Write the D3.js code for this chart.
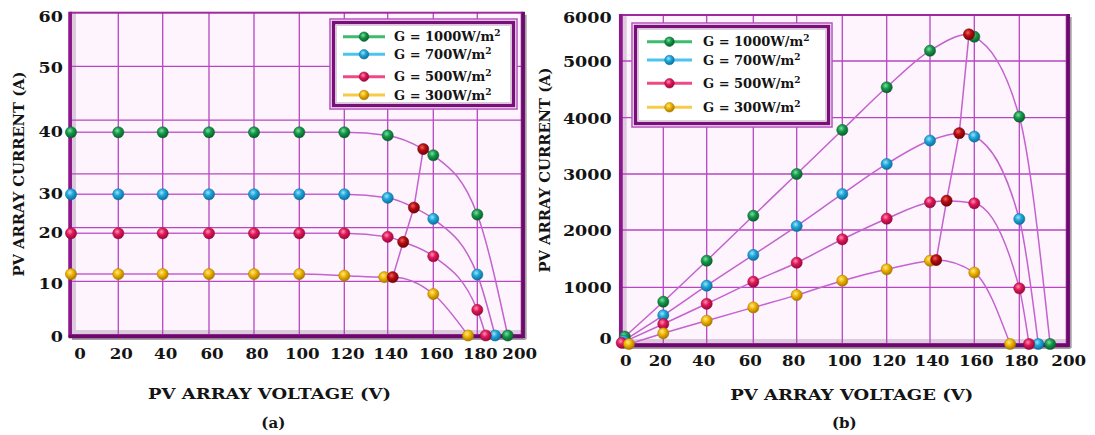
<!DOCTYPE html>
<html><head><meta charset="utf-8">
<script src="https://cdn.jsdelivr.net/npm/d3@7"></script>
<style>
body{margin:0;background:#fff}
svg{display:block}
text{font-family:"DejaVu Serif",serif;font-weight:bold;fill:#141414}
</style>
</head><body><script>
// ---------- DATA ----------
const seriesLabels = ["1000", "700", "500", "300"];           // G = ...W/m²
const xTickValues = [0,20,40,60,80,100,120,140,160,180,200];
const yTickValuesA = [0,10,20,30,40,50,60];
const yTickValuesB = [0,1000,2000,3000,4000,5000,6000];

// (a) I-V curves  [voltage, current]
const voltA_1000 = [0,20,40,60,80,100,120,140,160,180,193.7];
const currA_1000 = [40,40,40,40,40,40,40,39.5,36.3,24.8,0];
const voltA_700  = [0,20,40,60,80,100,120,140,160,180,188];
const currA_700  = [30,30,30,30,30,30,30,29.1,23.7,11.9,0];
const voltA_500  = [0,20,40,60,80,100,120,140,160,180,183.8];
const currA_500  = [20,20,20,20,20,20,20,19.3,15.5,5,0];
const voltA_300  = [0,20,40,60,80,100,120,138.4,160,175.8];
const currA_300  = [12,12,12,12,12,12,11.7,11.4,8.1,0];
const mppVoltA = [142.2,146.8,151.5,155.6];
const mppCurrA = [11.4,18.3,26.6,37.3];

// (b) P-V curves  [voltage, power]
const voltB_1000 = [1.5,20,40,60,80,100,120,140,160,180,193];
const powB_1000  = [130,746,1464,2255,3000,3782,4536,5224,5528,4018,0];
const voltB_700  = [1,20,40,60,80,100,120,140,160,180,188];
const powB_700   = [60,506,1028,1565,2071,2643,3178,3594,3665,2196,0];
const voltB_500  = [0,20,40,60,80,100,120,140,160,180,184.1];
const powB_500   = [20,353,709,1098,1429,1838,2202,2494,2477,982,0];
const voltB_300  = [3.5,20,40,60,80,100,120,140,160,175.9];
const powB_300   = [0,189,411,645,862,1115,1314,1464,1258,0];
const mppVoltB = [142.8,147.5,153.2,157.6];
const mppPowB  = [1476,2523,3725,5580];

// ---------- STYLE ----------
const palette = {
  green: {hl:"#7be0a0", base:"#14994a", dark:"#0a5e2c", line:"#3dbb6e"},
  blue:  {hl:"#9ae4fa", base:"#1ea6da", dark:"#0e6f9c", line:"#4cc4ee"},
  pink:  {hl:"#ff8fb2", base:"#e0185a", dark:"#98093a", line:"#ee4b86"},
  yellow:{hl:"#ffe98a", base:"#efb400", dark:"#a87800", line:"#f7cb4a"},
  mpp:   {hl:"#f06060", base:"#b60c10", dark:"#6e0406", line:"#b60c10"}
};
const seriesKeys = ["green","blue","pink","yellow"];
const curveColor = "#c462cf";
const gridColor = "#b746c0";

const svg = d3.select("body").append("svg").attr("width",1095).attr("height",435);
const defs = svg.append("defs");
Object.entries(palette).forEach(([k,c])=>{
  const gr = defs.append("radialGradient").attr("id","g-"+k)
    .attr("cx","40%").attr("cy","35%").attr("r","65%");
  gr.append("stop").attr("offset","0%").attr("stop-color",c.hl);
  gr.append("stop").attr("offset","45%").attr("stop-color",c.base);
  gr.append("stop").attr("offset","100%").attr("stop-color",c.dark);
});

const zip = (a,b)=>a.map((v,i)=>[v,b[i]]);

function drawPanel(o){
  const g = svg.append("g");
  const xs = d3.scaleLinear().domain(xTickValues).range(o.xRange);
  const ys = d3.scaleLinear().domain(o.yTicks).range(o.yRange);
  const L = o.xRange[0], R = o.xRange[o.xRange.length-1], T = o.top, B = o.bottom;

  // background
  g.append("rect").attr("x",L).attr("y",T).attr("width",R-L).attr("height",B-T).attr("fill","#fdf4fd");
  // inner bevel
  g.append("line").attr("x1",L+3).attr("x2",L+3).attr("y1",T).attr("y2",B).attr("stroke","#dccbdd").attr("stroke-width",4);
  g.append("line").attr("x1",L).attr("x2",R).attr("y1",B-3).attr("y2",B-3).attr("stroke","#dccbdd").attr("stroke-width",4);

  // grid
  const vGrid = xTickValues.slice(1,-1);
  g.selectAll(".vg").data(vGrid).join("line")
    .attr("x1",d=>xs(d)).attr("x2",d=>xs(d)).attr("y1",T).attr("y2",B)
    .attr("stroke",gridColor).attr("stroke-width",1.3);
  g.selectAll(".hg").data(o.hGrid).join("line")
    .attr("x1",L).attr("x2",R).attr("y1",d=>d).attr("y2",d=>d)
    .attr("stroke",gridColor).attr("stroke-width",1.3);

  // frame
  g.append("rect").attr("x",L).attr("y",T).attr("width",R-L).attr("height",B-T)
    .attr("fill","none").attr("stroke","#a0289f").attr("stroke-width",2);
  g.append("line").attr("x1",L-1).attr("x2",L-1).attr("y1",T-1).attr("y2",B+2).attr("stroke","#8c168c").attr("stroke-width",3.5);
  g.append("line").attr("x1",L+1).attr("x2",R+4).attr("y1",B+4).attr("y2",B+4).attr("stroke","#a69ca6").attr("stroke-width",2);
  g.append("line").attr("x1",R+4).attr("x2",R+4).attr("y1",T+2).attr("y2",B+4).attr("stroke","#a69ca6").attr("stroke-width",2);
  g.append("line").attr("x1",L-2.5).attr("x2",R+2).attr("y1",B+1.5).attr("y2",B+1.5).attr("stroke","#6a0a6a").attr("stroke-width",3.5);
  g.append("line").attr("x1",R+1.5).attr("x2",R+1.5).attr("y1",T-1).attr("y2",B+3).attr("stroke","#6a0a6a").attr("stroke-width",3.5);

  // curves
  const line = d3.line().x(d=>xs(d[0])).y(d=>ys(d[1])).curve(d3.curveMonotoneX);
  const mpp = zip(o.mppV,o.mppY);
  o.series.forEach((s,i)=>{
    const pts = s.slice();
    pts.push(mpp[3-i]);
    pts.sort((a,b)=>a[0]-b[0]);
    g.append("path").attr("d",line(pts)).attr("fill","none").attr("stroke",curveColor).attr("stroke-width",1.5);
  });
  // markers
  o.series.forEach((s,i)=>{
    g.selectAll(null).data(s).join("circle")
      .attr("cx",d=>xs(d[0])).attr("cy",d=>ys(d[1])).attr("r",5.6)
      .attr("fill","url(#g-"+seriesKeys[i]+")").attr("stroke",palette[seriesKeys[i]].dark).attr("stroke-width",0.5);
  });
  // MPP line + points
  g.append("path").attr("d",d3.line().x(d=>xs(d[0])).y(d=>ys(d[1]))(mpp))
    .attr("fill","none").attr("stroke",curveColor).attr("stroke-width",1.5);
  g.selectAll(null).data(mpp).join("circle")
    .attr("cx",d=>xs(d[0])).attr("cy",d=>ys(d[1])).attr("r",5.6)
    .attr("fill","url(#g-mpp)").attr("stroke",palette.mpp.dark).attr("stroke-width",0.5);

  // tick labels
  g.selectAll(null).data(xTickValues).join("text")
    .attr("x",d=>xs(d)+o.xLabelShift(d)).attr("y",o.xLabelY).attr("dy","0.36em")
    .attr("text-anchor","middle").attr("font-size",14)
    .attr("textLength",d=>String(d).length*11.6).attr("lengthAdjust","spacingAndGlyphs")
    .text(d=>d);
  g.selectAll(null).data(o.yTicks).join("text")
    .attr("x",L-o.yLabelGap).attr("y",d=>ys(d)+o.yLabelShift(d)).attr("dy","0.36em")
    .attr("text-anchor","end").attr("font-size",14)
    .attr("textLength",d=>String(d).length*12.2).attr("lengthAdjust","spacingAndGlyphs")
    .text(d=>d);

  // axis titles
  g.append("text").attr("x",o.xTitle[0]).attr("y",o.xTitle[1]).attr("dy","0.36em")
    .attr("text-anchor","middle").attr("font-size",15)
    .attr("textLength",243).attr("lengthAdjust","spacingAndGlyphs")
    .text("PV ARRAY VOLTAGE (V)");
  g.append("text").attr("transform",`translate(${o.yTitle[0]},${o.yTitle[1]}) rotate(-90)`)
    .attr("dy","0.36em").attr("text-anchor","middle").attr("font-size",15)
    .attr("textLength",205).attr("lengthAdjust","spacingAndGlyphs")
    .text("PV ARRAY CURRENT (A)");
  g.append("text").attr("x",o.tag[0]).attr("y",o.tag[1]).attr("dy","0.36em")
    .attr("text-anchor","middle").attr("font-size",15).text(o.tagText);

  // legend
  const lg = o.legend;
  g.append("rect").attr("x",lg.x).attr("y",lg.y).attr("width",lg.w).attr("height",lg.h)
    .attr("fill","#fff").attr("stroke","#b550bd").attr("stroke-width",1.5);
  g.append("rect").attr("x",lg.x+3.5).attr("y",lg.y+3.5).attr("width",lg.w-7).attr("height",lg.h-7)
    .attr("fill","#fff").attr("stroke","#7a0f7a").attr("stroke-width",3.5);
  g.append("rect").attr("x",lg.x+6.5).attr("y",lg.y+6.5).attr("width",lg.w-13).attr("height",lg.h-13)
    .attr("fill","none").attr("stroke","#d8d0d8").attr("stroke-width",1);
  seriesLabels.forEach((lab,i)=>{
    const y = lg.rows[i], c = palette[seriesKeys[i]];
    g.append("line").attr("x1",lg.lx[0]).attr("x2",lg.lx[1]).attr("y1",y).attr("y2",y)
      .attr("stroke",c.line).attr("stroke-width",3);
    g.append("circle").attr("cx",(lg.lx[0]+lg.lx[1])/2).attr("cy",y).attr("r",4.8)
      .attr("fill","url(#g-"+seriesKeys[i]+")").attr("stroke",c.dark).attr("stroke-width",0.5);
    const t = g.append("text").attr("x",lg.tx).attr("y",y).attr("dy","0.36em").attr("font-size",13);
    t.append("tspan").text("G = "+lab+"W/m");
    t.append("tspan").attr("font-size",9).attr("dy","-0.55em").text("2");
  });
}

drawPanel({
  xRange:[71,118.3,162.7,209,254,299.3,344.3,387.7,433.3,477.3,521.7],
  yTicks:yTickValuesA,
  yRange:[335.5,284.3,233.3,194.3,132.3,67.7,17.3],
  top:12.7, bottom:335,
  hGrid:d3.range(1,6).map(i=>d3.scaleLinear().domain([0,6]).range([335,12.7])(i)),
  series:[zip(voltA_1000,currA_1000),zip(voltA_700,currA_700),zip(voltA_500,currA_500),zip(voltA_300,currA_300)],
  mppV:mppVoltA, mppY:mppCurrA,
  xLabelShift:d=>d===0?9:(d===200?-2:3), xLabelY:354,
  yLabelGap:8, yLabelShift:d=>d===0?1:0,
  xTitle:[269.5,394], yTitle:[18.5,174], tag:[273.3,423], tagText:"(a)",
  legend:{x:330,y:19,w:187,h:90,rows:[36.7,54.3,76.7,95],lx:[343,385],tx:394}
});
drawPanel({
  xRange:[621.7,663.3,706.7,753.3,796.7,842.3,886.7,930,974.3,1019.3,1066.7],
  yTicks:yTickValuesB,
  yRange:[344,287.3,230,174,117.7,61,15],
  top:15, bottom:344,
  hGrid:[1000,2000,3000,4000,5000].map(v=>d3.scaleLinear().domain(yTickValuesB).range([344,287.3,230,174,117.7,61,15])(v)),
  series:[zip(voltB_1000,powB_1000),zip(voltB_700,powB_700),zip(voltB_500,powB_500),zip(voltB_300,powB_300)],
  mppV:mppVoltB, mppY:mppPowB,
  xLabelShift:d=>d===0?4:(d<=80?-3:2), xLabelY:360.7,
  yLabelGap:10, yLabelShift:d=>d===0?-5:(d===6000?3:1),
  xTitle:[851.7,395], yTitle:[545,170], tag:[844.3,422.7], tagText:"(b)",
  legend:{x:632,y:23,w:200,h:104,rows:[41.7,60,83.3,107.3],lx:[647,692],tx:703}
});
</script></body></html>
